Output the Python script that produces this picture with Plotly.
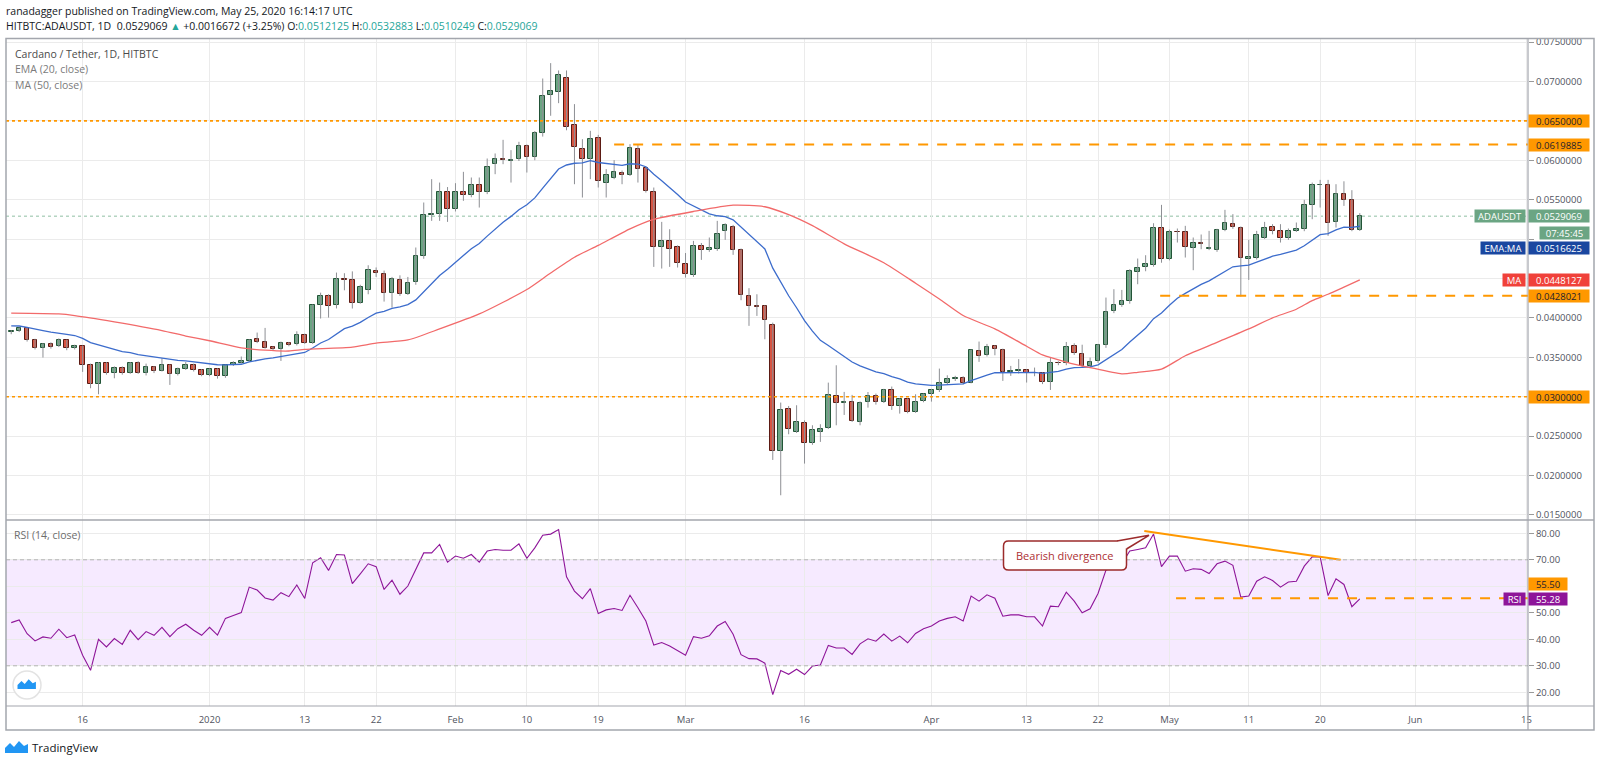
import plotly.graph_objects as go
import pandas as pd

# ---------------- DATA ----------------
dates = pd.date_range("2019-12-07", "2020-05-25", freq="D")

opens = [
    0.03827, 0.03830, 0.03869, 0.03721, 0.03624, 0.03666, 0.03645, 0.03717, 0.03615,
    0.03645, 0.03399, 0.03167, 0.03425, 0.03298, 0.03370, 0.03298, 0.03425, 0.03298, 0.03378, 0.03332, 0.03399, 0.03285, 0.03357, 0.03399, 0.03336,
    0.03277, 0.03349, 0.03264, 0.03399, 0.03433, 0.03454, 0.03730, 0.03695, 0.03630, 0.03602, 0.03687, 0.03666, 0.03784, 0.03679, 0.04161, 0.04275,
    0.04170, 0.04491, 0.04478, 0.04195, 0.04360, 0.04592, 0.04554, 0.04322, 0.04478, 0.04309, 0.04461, 0.04787, 0.05303, 0.05324, 0.05603,
    0.05379, 0.05591, 0.05557, 0.05692, 0.05591, 0.05954, 0.06014, 0.05990, 0.06014, 0.06183, 0.06035, 0.06344, 0.06826, 0.06860, 0.07041,
    0.06445, 0.06149, 0.06014, 0.06280, 0.05717, 0.05781, 0.05844, 0.05819, 0.06140, 0.05899, 0.05603, 0.04905, 0.04977, 0.04897,
    0.04681, 0.04542, 0.04914, 0.04859, 0.04871, 0.05104, 0.05159, 0.04863, 0.04275, 0.04148, 0.04148, 0.03907, 0.02312, 0.02841, 0.02558,
    0.02672, 0.02410, 0.02558, 0.02608, 0.03010, 0.02926, 0.02934, 0.02685, 0.02934, 0.03010, 0.02938, 0.03082, 0.02883, 0.02968, 0.02807, 0.02947,
    0.03031, 0.03082, 0.03171, 0.03222, 0.03243, 0.03180, 0.03586, 0.03526, 0.03645, 0.03594, 0.03315, 0.03328, 0.03336, 0.03298, 0.03298,
    0.03188, 0.03433, 0.03425, 0.03645, 0.03540, 0.03391, 0.03450, 0.03653, 0.04085, 0.04160, 0.04215, 0.04584, 0.04647, 0.04673, 0.05146,
    0.04753, 0.05092, 0.05092, 0.04888, 0.04944, 0.04871, 0.04858, 0.05117, 0.05189, 0.05146, 0.04745, 0.04766, 0.05020, 0.05155, 0.05104,
    0.05011, 0.05104, 0.05125, 0.05434, 0.05684, 0.05684, 0.05214, 0.05569, 0.05493, 0.0512125,
]
highs = [
    0.03844, 0.03880, 0.03878, 0.03735, 0.03680, 0.03690, 0.03740, 0.03725, 0.03660,
    0.03650, 0.03420, 0.03440, 0.03440, 0.03385, 0.03385, 0.03440, 0.03450, 0.03420, 0.03390, 0.03488, 0.03410, 0.03370, 0.03440, 0.03420, 0.03350,
    0.03360, 0.03360, 0.03410, 0.03450, 0.03510, 0.03730, 0.03814, 0.03873, 0.03640, 0.03700, 0.03695, 0.03830, 0.03800, 0.04170, 0.04320, 0.04300,
    0.04575, 0.04567, 0.04590, 0.04420, 0.04668, 0.04640, 0.04600, 0.04520, 0.04540, 0.04520, 0.04893, 0.05464, 0.05760, 0.05717, 0.05660,
    0.05709, 0.05853, 0.05781, 0.05781, 0.06022, 0.06086, 0.06259, 0.06128, 0.06234, 0.06200, 0.06370, 0.07037, 0.07232, 0.07139, 0.07139,
    0.06712, 0.06267, 0.06373, 0.06322, 0.05887, 0.06001, 0.05870, 0.06204, 0.06204, 0.05920, 0.05654, 0.05218, 0.05125, 0.04920,
    0.04823, 0.04977, 0.04950, 0.05020, 0.05231, 0.05200, 0.05180, 0.04880, 0.04377, 0.04300, 0.04160, 0.03940, 0.02926, 0.02883, 0.02892,
    0.02700, 0.02638, 0.02651, 0.03179, 0.03399, 0.03061, 0.03023, 0.02940, 0.03060, 0.03040, 0.03100, 0.03129, 0.02980, 0.02980, 0.03031, 0.03040,
    0.03100, 0.03357, 0.03272, 0.03265, 0.03260, 0.03600, 0.03700, 0.03670, 0.03653, 0.03610, 0.03391, 0.03477, 0.03350, 0.03370, 0.03310,
    0.03497, 0.03450, 0.03695, 0.03678, 0.03660, 0.03497, 0.03670, 0.04258, 0.04364, 0.04355, 0.04618, 0.04753, 0.04795, 0.05201, 0.05434,
    0.05120, 0.05134, 0.05168, 0.05020, 0.05058, 0.05104, 0.05130, 0.05371, 0.05316, 0.05160, 0.04990, 0.05104, 0.05218, 0.05189, 0.05189,
    0.05134, 0.05210, 0.05498, 0.05717, 0.05751, 0.05751, 0.05696, 0.05733, 0.05620, 0.0532883,
]
lows = [
    0.03793, 0.03820, 0.03700, 0.03600, 0.03497, 0.03610, 0.03630, 0.03590, 0.03600,
    0.03315, 0.03108, 0.03031, 0.03280, 0.03234, 0.03280, 0.03290, 0.03290, 0.03270, 0.03300, 0.03320, 0.03150, 0.03270, 0.03340, 0.03320, 0.03260,
    0.03260, 0.03230, 0.03240, 0.03390, 0.03420, 0.03440, 0.03680, 0.03610, 0.03580, 0.03454, 0.03640, 0.03650, 0.03670, 0.03670, 0.03992, 0.04004,
    0.04120, 0.04350, 0.04119, 0.04180, 0.04300, 0.04520, 0.04207, 0.04131, 0.04280, 0.04290, 0.04420, 0.04750, 0.05231, 0.05231, 0.05218,
    0.05350, 0.05485, 0.05530, 0.05400, 0.05570, 0.05823, 0.05950, 0.05717, 0.05990, 0.05844, 0.06000, 0.06300, 0.06564, 0.06724, 0.06380,
    0.05696, 0.05527, 0.05760, 0.05654, 0.05527, 0.05760, 0.05696, 0.05800, 0.05717, 0.05590, 0.04647, 0.04626, 0.04647, 0.04639,
    0.04512, 0.04520, 0.04736, 0.04838, 0.04850, 0.04990, 0.04800, 0.04224, 0.03899, 0.04025, 0.03729, 0.02198, 0.01750, 0.02524, 0.02540,
    0.02152, 0.02390, 0.02427, 0.02590, 0.02638, 0.02769, 0.02680, 0.02638, 0.02862, 0.02900, 0.02920, 0.02833, 0.02786, 0.02790, 0.02795, 0.02930,
    0.02938, 0.03060, 0.03150, 0.03200, 0.03158, 0.03170, 0.03442, 0.03510, 0.03526, 0.03201, 0.03264, 0.03294, 0.03180, 0.03260, 0.03160,
    0.03086, 0.03400, 0.03400, 0.03530, 0.03370, 0.03380, 0.03430, 0.03620, 0.04060, 0.04140, 0.04180, 0.04427, 0.04592, 0.04650, 0.04700,
    0.04730, 0.04956, 0.04766, 0.04605, 0.04871, 0.04860, 0.04838, 0.05100, 0.05130, 0.04271, 0.04482, 0.04740, 0.05000, 0.05060, 0.04956,
    0.04990, 0.05090, 0.05100, 0.05252, 0.05400, 0.05041, 0.05146, 0.05421, 0.05100, 0.0510249,
]
closes = [
    0.03830, 0.03869, 0.03721, 0.03624, 0.03666, 0.03636, 0.03717, 0.03615, 0.03645,
    0.03399, 0.03167, 0.03425, 0.03298, 0.03370, 0.03298, 0.03425, 0.03298, 0.03378, 0.03332, 0.03399, 0.03285, 0.03357, 0.03399, 0.03336, 0.03277,
    0.03349, 0.03264, 0.03399, 0.03433, 0.03454, 0.03721, 0.03695, 0.03624, 0.03602, 0.03687, 0.03657, 0.03784, 0.03679, 0.04161, 0.04275, 0.04152,
    0.04491, 0.04478, 0.04195, 0.04394, 0.04605, 0.04567, 0.04313, 0.04491, 0.04309, 0.04448, 0.04787, 0.05303, 0.05324, 0.05603, 0.05379,
    0.05591, 0.05557, 0.05692, 0.05591, 0.05920, 0.06014, 0.05997, 0.05997, 0.06183, 0.06035, 0.06344, 0.06817, 0.06881, 0.07080, 0.06424,
    0.06170, 0.06022, 0.06267, 0.05739, 0.05811, 0.05853, 0.05819, 0.06157, 0.05895, 0.05612, 0.04905, 0.04973, 0.04871, 0.04702,
    0.04554, 0.04914, 0.04867, 0.04888, 0.05070, 0.05176, 0.04867, 0.04288, 0.04148, 0.04140, 0.03971, 0.02312, 0.02828, 0.02587, 0.02685,
    0.02410, 0.02575, 0.02596, 0.03023, 0.02926, 0.02934, 0.02693, 0.02926, 0.03010, 0.02938, 0.03082, 0.02883, 0.02968, 0.02807, 0.02938, 0.03031,
    0.03082, 0.03171, 0.03222, 0.03243, 0.03180, 0.03594, 0.03518, 0.03636, 0.03602, 0.03315, 0.03328, 0.03340, 0.03298, 0.03306, 0.03188,
    0.03433, 0.03425, 0.03636, 0.03552, 0.03391, 0.03442, 0.03653, 0.04076, 0.04160, 0.04215, 0.04592, 0.04639, 0.04681, 0.05138, 0.04753,
    0.05092, 0.05090, 0.04901, 0.04944, 0.04936, 0.04888, 0.05117, 0.05201, 0.05155, 0.04766, 0.04775, 0.05049, 0.05146, 0.05104, 0.05020,
    0.05104, 0.05125, 0.05430, 0.05684, 0.05692, 0.05201, 0.05569, 0.05493, 0.05113, 0.0529069,
]
ema_seed = 0.0390   # EMA(20) value read at the first visible bar

ma50_dates = ["2019-12-07", "2019-12-13", "2019-12-15", "2019-12-20", "2019-12-26", "2019-12-29",
              "2020-01-01", "2020-01-05", "2020-01-08", "2020-01-11", "2020-01-13", "2020-01-19",
              "2020-01-22", "2020-01-26", "2020-01-30", "2020-02-04", "2020-02-10", "2020-02-13",
              "2020-02-16", "2020-02-19", "2020-02-23", "2020-02-26", "2020-03-02", "2020-03-07",
              "2020-03-11", "2020-03-14", "2020-03-17", "2020-03-21", "2020-03-26", "2020-03-30",
              "2020-04-02", "2020-04-05", "2020-04-09", "2020-04-13", "2020-04-15", "2020-04-18",
              "2020-04-21", "2020-04-25", "2020-04-27", "2020-04-30", "2020-05-03", "2020-05-07",
              "2020-05-11", "2020-05-14", "2020-05-17", "2020-05-19", "2020-05-21", "2020-05-23",
              "2020-05-25"]
ma50_vals = [0.0406, 0.0405, 0.0403, 0.0395, 0.0384, 0.0377,
             0.0371, 0.0362, 0.0359, 0.0358, 0.0360, 0.0363,
             0.0368, 0.0372, 0.0386, 0.0405, 0.0436, 0.0457,
             0.0477, 0.0492, 0.0513, 0.0525, 0.0535, 0.0543,
             0.0541, 0.0531, 0.0517, 0.0494, 0.0470, 0.0444,
             0.0424, 0.0403, 0.0386, 0.0364, 0.0353, 0.0344,
             0.0337, 0.0329, 0.0331, 0.0335, 0.0352, 0.0369,
             0.0386, 0.0400, 0.0411, 0.0422, 0.0430, 0.0439,
             0.0448127]

rsi = [
    46.3, 47.3, 42.1, 39.4, 40.9, 40.4, 43.8, 40.6, 41.6,
    34.0, 28.3, 40.0, 37.1, 40.3, 38.1, 43.4, 39.9, 42.9, 41.5, 44.5, 41.0, 44.0, 45.7, 43.4, 41.5,
    44.5, 41.6, 47.9, 49.0, 50.1, 59.7, 58.6, 55.6, 54.8, 57.6, 56.1, 60.5, 55.4, 68.9, 70.8, 66.0,
    72.0, 71.8, 61.0, 64.7, 68.5, 67.4, 58.8, 62.3, 57.0, 60.1, 66.1, 72.6, 72.6, 75.8, 69.1,
    71.4, 70.6, 72.0, 69.1, 73.3, 73.9, 73.6, 73.6, 76.0, 70.6, 74.5, 79.3, 79.7, 81.4, 63.6,
    58.2, 55.3, 59.1, 49.7, 51.1, 51.6, 50.9, 56.6, 51.9, 46.9, 37.8, 38.8, 37.5, 35.6,
    34.0, 41.0, 40.4, 41.3, 45.0, 46.7, 41.9, 34.2, 32.7, 32.6, 31.0, 19.1, 28.2, 26.8, 28.7,
    26.7, 29.9, 30.3, 37.7, 36.7, 36.7, 34.3, 38.3, 40.2, 39.3, 42.0, 39.3, 41.2, 38.7, 42.2, 44.0,
    45.0, 46.9, 47.9, 48.5, 46.9, 56.3, 54.4, 56.8, 55.5, 48.7, 49.2, 49.2, 48.5, 48.5, 45.0,
    52.5, 52.3, 57.8, 54.4, 50.0, 51.5, 57.3, 66.1, 67.6, 68.5, 73.3, 73.9, 74.5, 79.7, 67.4,
    71.4, 71.4, 65.7, 66.6, 66.4, 64.8, 68.5, 69.5, 67.9, 55.9, 56.3, 61.9, 63.6, 62.2, 59.7,
    61.6, 61.9, 67.6, 71.1, 71.1, 56.5, 62.8, 60.7, 52.3, 55.28,
]

x_tick_dates = ["2019-12-16", "2020-01-01", "2020-01-13", "2020-01-22", "2020-02-01", "2020-02-10",
                "2020-02-19", "2020-03-01", "2020-03-16", "2020-04-01", "2020-04-13", "2020-04-22",
                "2020-05-01", "2020-05-11", "2020-05-20", "2020-06-01", "2020-06-15"]
x_tick_labels = ["16", "2020", "13", "22", "Feb", "10", "19", "Mar", "16", "Apr", "13", "22",
                 "May", "11", "20", "Jun", "15"]
price_ticks = [0.015, 0.020, 0.025, 0.030, 0.035, 0.040, 0.045, 0.050, 0.055, 0.060, 0.065, 0.070, 0.075]
price_tick_hidden = [0.050]   # covered by the countdown / EMA labels in the reference
rsi_ticks = [20, 30, 40, 50, 60, 70, 80]

dotted_levels = [0.065, 0.030]
dashed_levels = [0.0619885, 0.0428021]
dashed_starts = ["2020-02-21", "2020-04-29 20:00"]
last_price = 0.0529069
ema_label = 0.0516625
ma_label = 0.0448127
rsi_level = 55.5
rsi_last = 55.28
div_x = ["2020-04-27 20:00", "2020-05-22 14:00"]
div_y = [80.9, 70.0]
rsi_level_start = "2020-05-01 20:00"

x_range = ["2019-12-06 08:10", "2020-06-15 04:50"]
price_range = [0.014363, 0.075507]
rsi_range = [14.83, 85.02]

# ---------------- DERIVED ----------------
ema = []
prev = ema_seed
for i, c in enumerate(closes):
    prev = ema_seed if i == 0 else prev + 2.0 / 21.0 * (c - prev)
    ema.append(prev)

up = [c >= o for o, c in zip(opens, closes)]
body_base = [min(o, c) for o, c in zip(opens, closes)]
body_len = [max(abs(c - o), 0.00004) for o, c in zip(opens, closes)]
wick_x, wick_y = [], []
for d, lo, hi in zip(dates, lows, highs):
    wick_x += [d, d, None]
    wick_y += [lo, hi, None]

price_ticktext = ["" if any(abs(t - h) < 1e-9 for h in price_tick_hidden) else "%.7f" % t
                  for t in price_ticks]

# ---------------- LAYOUT HELPERS ----------------
W, H = 1600, 763
L, R, T, B = 6, 72, 38, 57
PW, PH = W - L - R, H - T - B
SPLIT = (H - B - 520) / PH


def px_x(px):
    return (px - L) / PW


def px_y(py):
    return (H - B - py) / PH


FONT = "Open Sans, Lato, sans-serif"
GRID = "#ebebeb"
FRAME = "#a3a6ad"
ORANGE = "#ff9800"
GREEN = "#6ba583"
RED = "#d75442"

fig = go.Figure()

# wicks then candle bodies
fig.add_trace(go.Scatter(x=wick_x, y=wick_y, mode="lines", line=dict(color="#8d8f94", width=1),
                         xaxis="x", yaxis="y", showlegend=False, hoverinfo="skip"))
fig.add_trace(go.Bar(x=dates, y=body_len, base=body_base, width=0.58 * 86400000,
                     marker=dict(color=[GREEN if u else RED for u in up],
                                 line=dict(color=["#225437" if u else "#5b1a13" for u in up], width=1)),
                     xaxis="x", yaxis="y", showlegend=False, hoverinfo="skip"))
fig.add_trace(go.Scatter(x=dates, y=ema, mode="lines", line=dict(color="#3c6ccc", width=1.3),
                         xaxis="x", yaxis="y", showlegend=False, hoverinfo="skip"))
fig.add_trace(go.Scatter(x=pd.to_datetime(ma50_dates), y=ma50_vals, mode="lines",
                         line=dict(color="#f26a6a", width=1.3, shape="spline", smoothing=0.6),
                         xaxis="x", yaxis="y", showlegend=False, hoverinfo="skip"))
fig.add_trace(go.Scatter(x=dates, y=rsi, mode="lines", line=dict(color="#8e1599", width=1.1),
                         xaxis="x2", yaxis="y2", showlegend=False, hoverinfo="skip"))
fig.add_trace(go.Scatter(x=pd.to_datetime(div_x), y=div_y, mode="lines", line=dict(color=ORANGE, width=2),
                         xaxis="x2", yaxis="y2", showlegend=False, hoverinfo="skip"))

shapes = []
shapes.append(dict(type="rect", xref="paper", yref="y2", x0=0, x1=1, y0=30, y1=70,
                   fillcolor="rgba(153,21,255,0.09)", line=dict(width=0), layer="below"))
for lv in (70, 30):
    shapes.append(dict(type="line", xref="paper", yref="y2", x0=0, x1=1, y0=lv, y1=lv,
                       line=dict(color="#b4b4b4", width=1, dash="4px,3px")))
for lv in dotted_levels:
    shapes.append(dict(type="line", xref="paper", yref="y", x0=0, x1=1, y0=lv, y1=lv,
                       line=dict(color=ORANGE, width=1.6, dash="dot")))
for lv, st in zip(dashed_levels, dashed_starts):
    shapes.append(dict(type="line", xref="x", yref="y", x0=st, x1=x_range[1], y0=lv, y1=lv,
                       line=dict(color=ORANGE, width=2, dash="10px,9px")))
shapes.append(dict(type="line", xref="paper", yref="y", x0=0, x1=1, y0=last_price, y1=last_price,
                   line=dict(color="#8fbfa3", width=1, dash="dot"), layer="below"))
shapes.append(dict(type="line", xref="x2", yref="y2", x0=rsi_level_start, x1=x_range[1],
                   y0=rsi_level, y1=rsi_level, line=dict(color=ORANGE, width=2, dash="10px,9px")))
# frame
xr = px_x(1594)
shapes.append(dict(type="rect", xref="paper", yref="paper", x0=0, x1=xr, y0=px_y(730), y1=px_y(38.5),
                   line=dict(color=FRAME, width=1.5)))
shapes.append(dict(type="line", xref="paper", yref="paper", x0=0, x1=xr, y0=SPLIT, y1=SPLIT,
                   line=dict(color=FRAME, width=1.5)))
shapes.append(dict(type="line", xref="paper", yref="paper", x0=0, x1=xr, y0=0, y1=0,
                   line=dict(color=FRAME, width=1.2)))
shapes.append(dict(type="line", xref="paper", yref="paper", x0=1, x1=1, y0=px_y(730), y1=px_y(38.5),
                   line=dict(color=FRAME, width=1.2)))
# watermark circle + logos
cx, cy, rr = 27, 685, 14
shapes.append(dict(type="circle", xref="paper", yref="paper",
                   x0=px_x(cx - rr), x1=px_x(cx + rr), y0=px_y(cy + rr), y1=px_y(cy - rr),
                   line=dict(color="#e3e3e3", width=1.5), fillcolor="white"))


def path_from(pts, close=True):
    d = ""
    for k, (a, b) in enumerate(pts):
        d += ("M" if k == 0 else "L") + f"{px_x(a):.5f},{px_y(b):.5f} "
    return d + ("Z" if close else "")


def logo_pts(x0, y0, s):
    base = [(0, 13), (0, 8), (5, 3), (9, 7), (14, 1), (19, 6), (23, 4), (23, 13)]
    return [(x0 + a * s, y0 + b * s) for a, b in base]


shapes.append(dict(type="path", xref="paper", yref="paper", path=path_from(logo_pts(17.5, 678.5, 0.8)),
                   fillcolor="#2196f3", line=dict(width=0)))
shapes.append(dict(type="path", xref="paper", yref="paper", path=path_from(logo_pts(5, 740, 1.0)),
                   fillcolor="#2196f3", line=dict(width=0)))

# callout "Bearish divergence" (rounded box with tail)
bx0, bx1, by0, by1, rad = 1003.5, 1126.5, 541, 570, 5
CALL = "#9c2b2b"
rounded = (f"M{px_x(bx0 + rad):.5f},{px_y(by0):.5f} L{px_x(bx1 - rad):.5f},{px_y(by0):.5f} "
           f"Q{px_x(bx1):.5f},{px_y(by0):.5f} {px_x(bx1):.5f},{px_y(by0 + rad):.5f} "
           f"L{px_x(bx1):.5f},{px_y(by1 - rad):.5f} "
           f"Q{px_x(bx1):.5f},{px_y(by1):.5f} {px_x(bx1 - rad):.5f},{px_y(by1):.5f} "
           f"L{px_x(bx0 + rad):.5f},{px_y(by1):.5f} "
           f"Q{px_x(bx0):.5f},{px_y(by1):.5f} {px_x(bx0):.5f},{px_y(by1 - rad):.5f} "
           f"L{px_x(bx0):.5f},{px_y(by0 + rad):.5f} "
           f"Q{px_x(bx0):.5f},{px_y(by0):.5f} {px_x(bx0 + rad):.5f},{px_y(by0):.5f} Z")
shapes.append(dict(type="path", xref="paper", yref="paper", path=rounded, fillcolor="white",
                   line=dict(color=CALL, width=1.5)))
tail = [(1117, 541), (1149, 535.3), (1126.5, 549)]
shapes.append(dict(type="path", xref="paper", yref="paper", path=path_from(tail + [(1120, 545)]),
                   fillcolor="white", line=dict(width=0)))
shapes.append(dict(type="path", xref="paper", yref="paper", path=path_from(tail, close=False),
                   line=dict(color=CALL, width=1.5)))

ann = []


def txt(text, xpx, ypx, size, color, anchor="left"):
    ann.append(dict(text=text, x=px_x(xpx), y=px_y(ypx), xref="paper", yref="paper",
                    xanchor=anchor, yanchor="middle", showarrow=False,
                    font=dict(family=FONT, size=size, color=color)))


txt("ranadagger published on TradingView.com, May 25, 2020 16:14:17 UTC", 4, 11.5, 10.5, "#131722")
tc = "#26a69a"
txt("HITBTC:ADAUSDT, 1D  0.0529069 <span style='color:%s'>▲</span> +0.0016672 (+3.25%%) "
    "O:<span style='color:%s'>0.0512125</span> H:<span style='color:%s'>0.0532883</span> "
    "L:<span style='color:%s'>0.0510249</span> C:<span style='color:%s'>0.0529069</span>" % (tc, tc, tc, tc, tc),
    4, 26.5, 10.5, "#131722")
txt("Cardano / Tether, 1D, HITBTC", 12.5, 54.3, 10.5, "#4a4a4a")
txt("EMA (20, close)", 12.5, 69.3, 10.5, "#7b7b7b")
txt("MA (50, close)", 12.5, 84.7, 10.5, "#7b7b7b")
txt("RSI (14, close)", 12, 535, 10.5, "#6d6d6d")
txt("TradingView", 29.5, 747, 11.5, "#131722")
txt("Bearish divergence", (bx0 + bx1) / 2, 555.5, 11, "#ad2f33", anchor="center")


def box(text, xpx, y, yref, bg, fg, anchor, width, yshift=0):
    ann.append(dict(text=text, x=px_x(xpx), xref="paper", y=y, yref=yref, xanchor=anchor,
                    yanchor="middle", yshift=yshift, showarrow=False, bgcolor=bg, width=width,
                    height=12, borderpad=0, align="center",
                    font=dict(family=FONT, size=9.5, color=fg)))


DARK = "#1e222d"
box("%.7f" % dotted_levels[0], 1528, dotted_levels[0], "y", ORANGE, DARK, "left", 60)
box("%.7f" % dashed_levels[0], 1528, dashed_levels[0], "y", ORANGE, DARK, "left", 60)
box("%.7f" % last_price, 1528, last_price, "y", GREEN, "white", "left", 60)
box("ADAUSDT", 1526, last_price, "y", GREEN, "white", "right", 50)
box("07:45:45", 1539, last_price, "y", GREEN, "white", "left", 49, yshift=-16.5)
box("%.7f" % ema_label, 1528, ema_label, "y", "#1a47a0", "white", "left", 60, yshift=-22.5)
box("EMA:MA", 1526, ema_label, "y", "#1a47a0", "white", "right", 44, yshift=-22.5)
box("%.7f" % ma_label, 1528, ma_label, "y", "#f0413a", "white", "left", 60)
box("MA", 1526, ma_label, "y", "#f0413a", "white", "right", 22)
box("%.7f" % dashed_levels[1], 1528, dashed_levels[1], "y", ORANGE, DARK, "left", 60)
box("%.7f" % dotted_levels[1], 1528, dotted_levels[1], "y", ORANGE, DARK, "left", 60)
box("%.2f" % rsi_level, 1528, rsi_level, "y2", ORANGE, DARK, "left", 38, yshift=14)
box("%.2f" % rsi_last, 1528, rsi_last, "y2", "#8e1599", "white", "left", 38)
box("RSI", 1526, rsi_last, "y2", "#8e1599", "white", "right", 21)

axis_font = dict(family=FONT, size=9.5, color="#50535e")
xcommon = dict(range=x_range, type="date", tickvals=x_tick_dates, showgrid=True, gridcolor=GRID,
               gridwidth=1, zeroline=False, showline=False)
fig.update_layout(
    width=W, height=H, margin=dict(l=L, r=R, t=T, b=B),
    paper_bgcolor="white", plot_bgcolor="white", showlegend=False, bargap=0,
    xaxis=dict(domain=[0, 1], anchor="y", showticklabels=False, ticks="", **xcommon),
    xaxis2=dict(domain=[0, 1], anchor="y2", matches="x", ticktext=x_tick_labels, ticks="outside",
                ticklen=5, tickcolor="rgba(0,0,0,0)", tickfont=axis_font, **xcommon),
    yaxis=dict(domain=[SPLIT, 1], anchor="x", side="right", range=price_range, tickvals=price_ticks,
               ticktext=price_ticktext, ticks="outside", ticklen=5, tickcolor="#9a9a9a", tickfont=axis_font,
               showgrid=True, gridcolor=GRID, zeroline=False, showline=False),
    yaxis2=dict(domain=[0, SPLIT], anchor="x2", side="right", range=rsi_range, tickvals=rsi_ticks,
                tickformat=".2f", ticks="outside", ticklen=5, tickcolor="#9a9a9a", tickfont=axis_font,
                showgrid=True, gridcolor=GRID, zeroline=False, showline=False),
    shapes=shapes, annotations=ann, font=dict(family=FONT),
)

fig.write_html("out.html", config={"displayModeBar": False},
               post_script="document.body.style.margin='0';")
